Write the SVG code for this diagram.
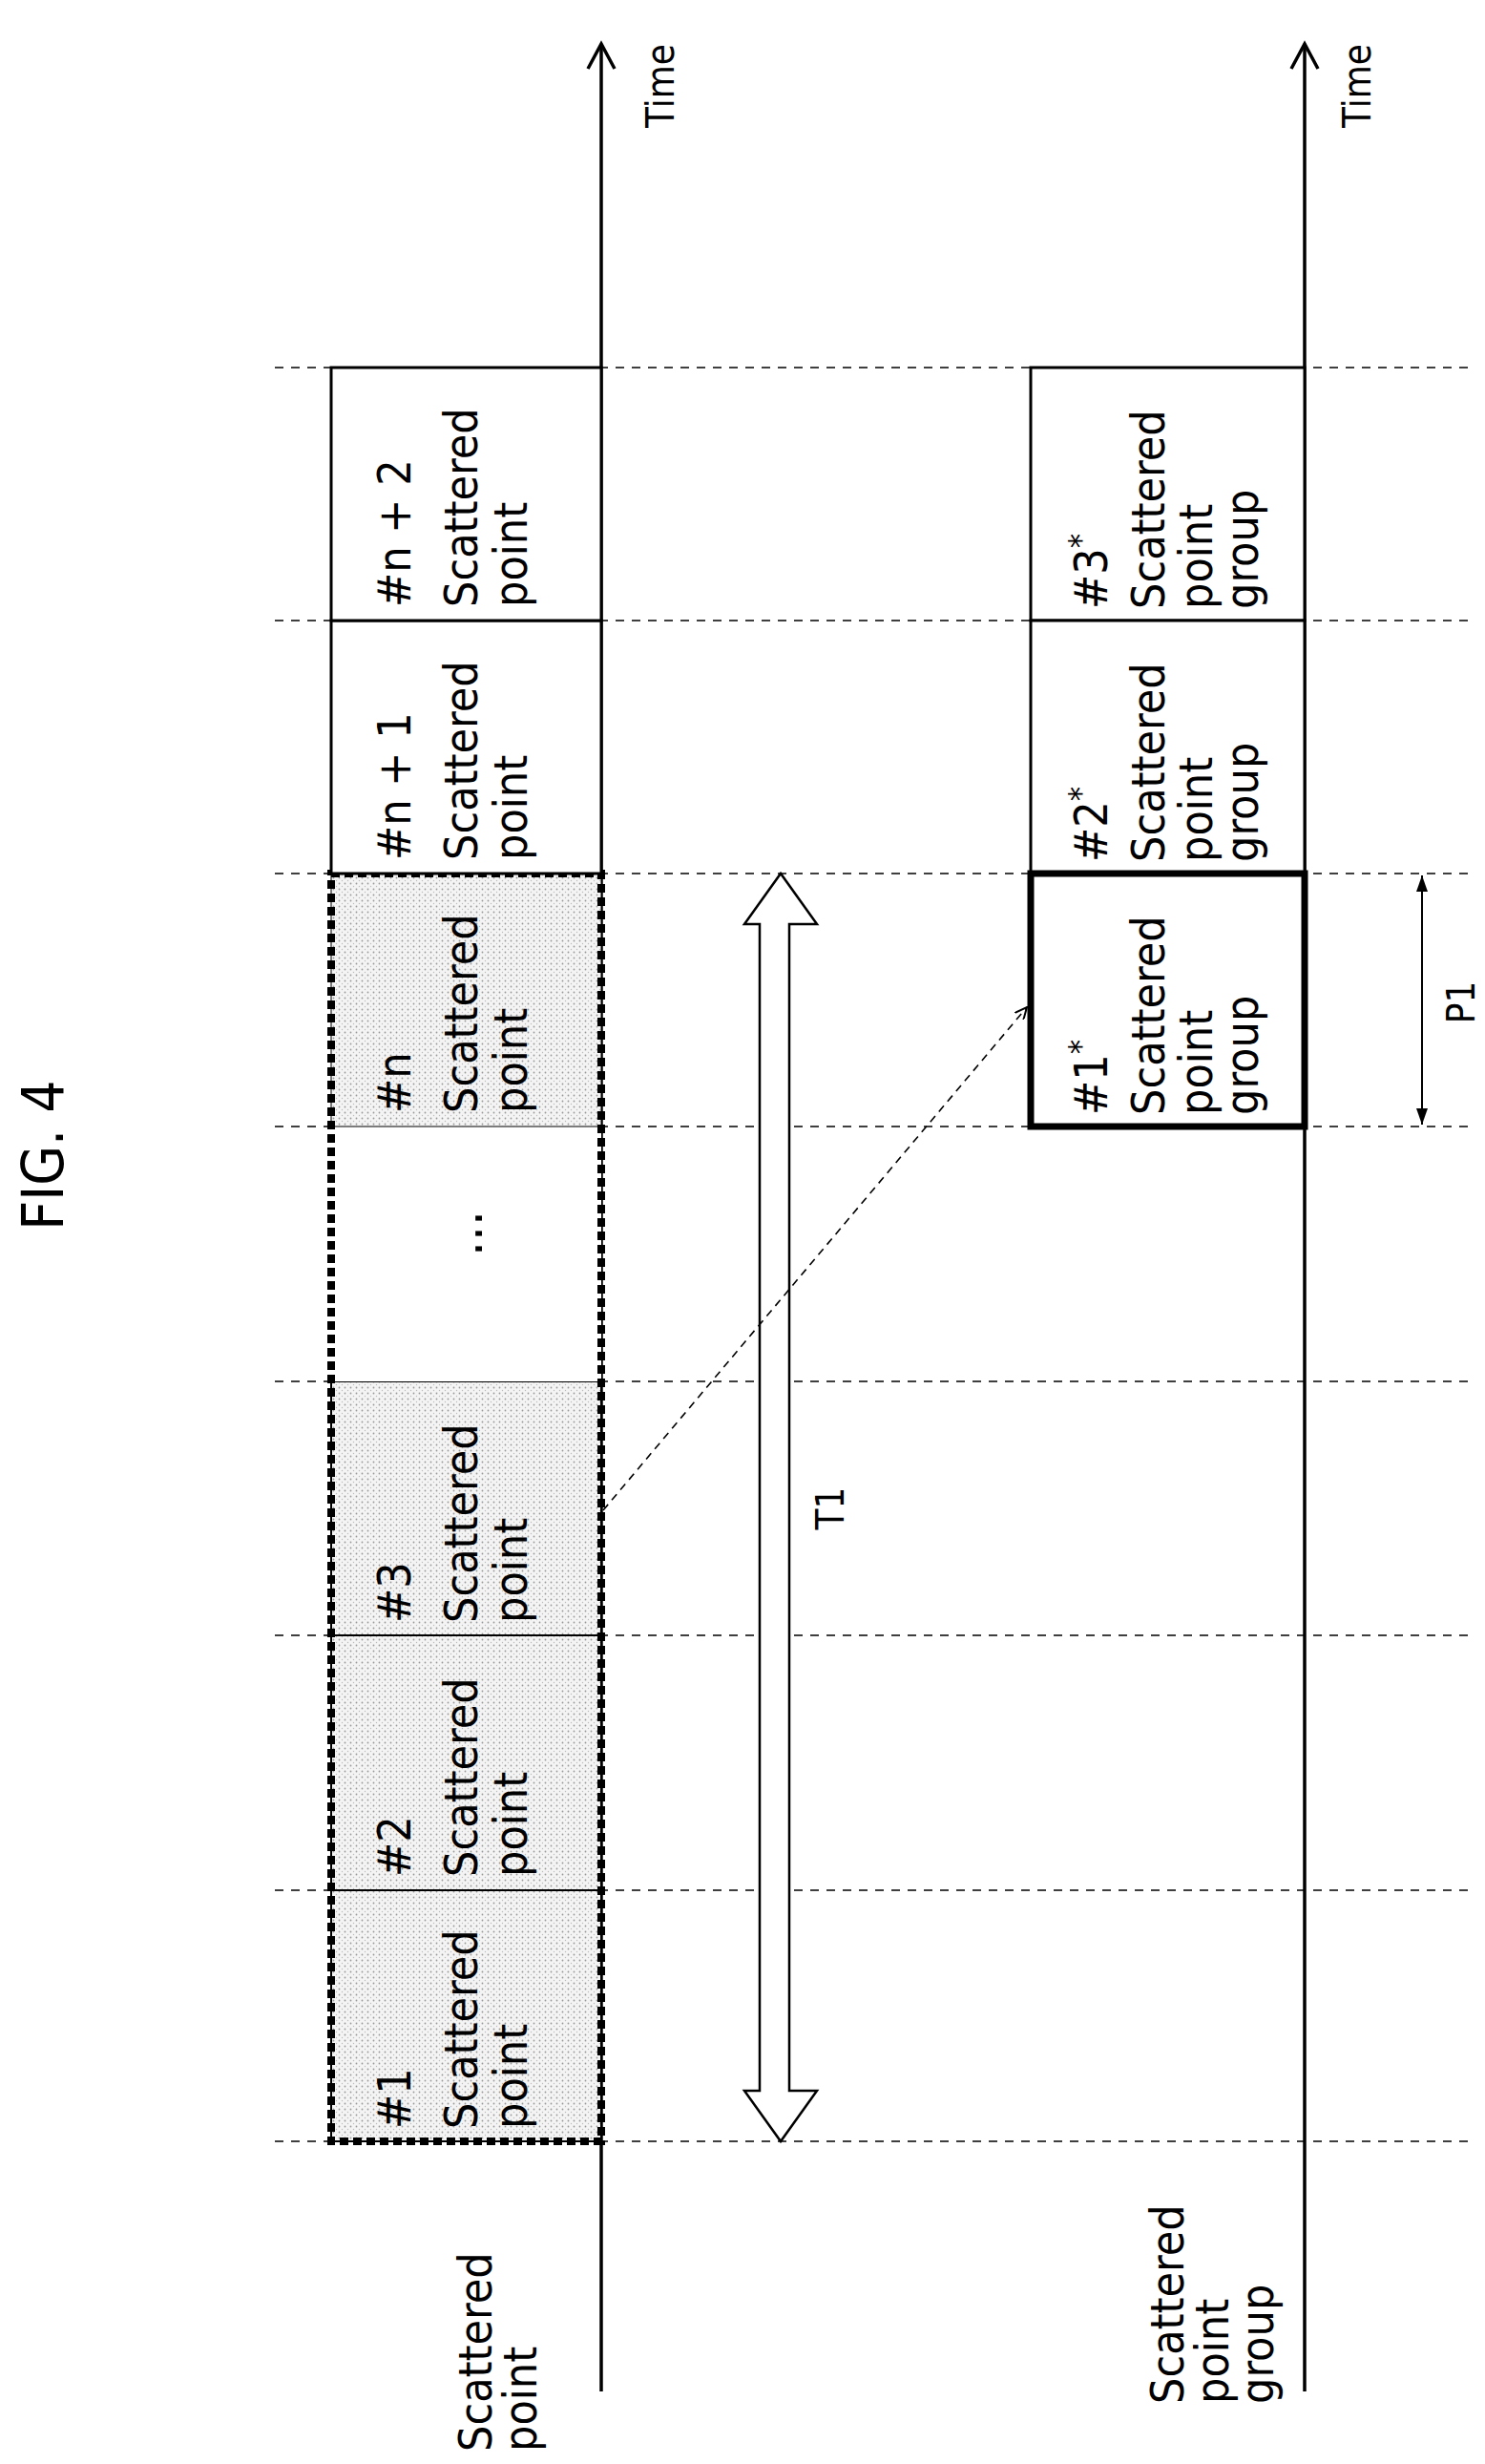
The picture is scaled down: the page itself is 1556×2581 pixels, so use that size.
<svg xmlns="http://www.w3.org/2000/svg" width="1556" height="2581" viewBox="0 0 1556 2581">
<style>
text{font-family:"DejaVu Sans Condensed","DejaVu Sans","Liberation Sans",sans-serif;font-size:48px;fill:#000}
.grid{stroke:#000;stroke-width:1.6;stroke-dasharray:9 8;fill:none}
.box{stroke:#000;stroke-width:3;fill:#fff}
.ax{stroke:#000;stroke-width:3.5;fill:none}
.st{font-size:34px}
</style>
<defs>
<pattern id="dots" width="6" height="6" patternUnits="userSpaceOnUse"><rect width="6" height="6" fill="#f4f4f4"/><circle cx="1.5" cy="1.5" r="0.9" fill="#999"/><circle cx="4.5" cy="4.5" r="0.7" fill="#bbb"/></pattern>
<marker id="ah" markerWidth="14" markerHeight="12" refX="13" refY="6" orient="auto" markerUnits="userSpaceOnUse"><path d="M0,0 L13,6 L0,12" fill="none" stroke="#000" stroke-width="2"/></marker>
<marker id="fh" markerWidth="18" markerHeight="14" refX="17" refY="7" orient="auto-start-reverse" markerUnits="userSpaceOnUse"><path d="M0,1 L17,7 L0,13 Z" fill="#000"/></marker>
</defs>
<rect width="1556" height="2581" fill="#fff"/>
<text transform="translate(66,1210) rotate(-90)" text-anchor="middle" style="font-size:60px">FIG. 4</text>
<g id="gridlines">
<line class="grid" x1="288" y1="385" x2="1540" y2="385"/>
<line class="grid" x1="288" y1="650" x2="1540" y2="650"/>
<line class="grid" x1="288" y1="915" x2="1540" y2="915"/>
<line class="grid" x1="288" y1="1180" x2="1540" y2="1180"/>
<line class="grid" x1="288" y1="1447" x2="1540" y2="1447"/>
<line class="grid" x1="288" y1="1713" x2="1540" y2="1713"/>
<line class="grid" x1="288" y1="1980" x2="1540" y2="1980"/>
<line class="grid" x1="288" y1="2243" x2="1540" y2="2243"/>
</g>
<g id="axes">
<line class="ax" x1="630" y1="2505" x2="630" y2="48"/>
<path class="ax" d="M616,72 L630,46 L644,72"/>
<text transform="translate(706,90) rotate(-90)" text-anchor="middle" style="font-size:40px">Time</text>
<line class="ax" x1="1367" y1="2505" x2="1367" y2="48"/>
<path class="ax" d="M1353,72 L1367,46 L1381,72"/>
<text transform="translate(1436,90) rotate(-90)" text-anchor="middle" style="font-size:40px">Time</text>
<text transform="translate(515,2568) rotate(-90)">Scattered</text>
<text transform="translate(562,2568) rotate(-90)">point</text>
<text transform="translate(1240,2518) rotate(-90)">Scattered</text>
<text transform="translate(1287,2518) rotate(-90)">point</text>
<text transform="translate(1334,2518) rotate(-90)">group</text>
</g>
<g id="sp1"><rect x="347" y="1980" width="283" height="263" fill="url(#dots)" stroke="#000" stroke-width="2"/>
<text transform="translate(430,2230) rotate(-90)">#1</text><text transform="translate(500,2230) rotate(-90)">Scattered</text><text transform="translate(552,2230) rotate(-90)">point</text></g>
<g id="sp2"><rect x="347" y="1713" width="283" height="267" fill="url(#dots)" stroke="#000" stroke-width="2"/>
<text transform="translate(430,1966) rotate(-90)">#2</text><text transform="translate(500,1966) rotate(-90)">Scattered</text><text transform="translate(552,1966) rotate(-90)">point</text></g>
<g id="sp3"><rect x="347" y="1447" width="283" height="266" fill="url(#dots)" stroke="#000" stroke-width="2"/>
<text transform="translate(430,1700) rotate(-90)">#3</text><text transform="translate(500,1700) rotate(-90)">Scattered</text><text transform="translate(552,1700) rotate(-90)">point</text></g>
<g id="spdots"><rect x="347" y="1180" width="283" height="267" fill="#fff" stroke="none"/>
<text transform="translate(505,1292) rotate(-90)" text-anchor="middle" style="font-size:56px">...</text></g>
<g id="spn"><rect x="347" y="915" width="283" height="265" fill="url(#dots)" stroke="#000" stroke-width="1"/>
<text transform="translate(430,1166) rotate(-90)">#n</text><text transform="translate(500,1166) rotate(-90)">Scattered</text><text transform="translate(552,1166) rotate(-90)">point</text></g>
<rect id="window" x="347" y="915" width="283" height="1328" fill="none" stroke="#000" stroke-width="8" stroke-dasharray="9 5"/>
<g id="spn1"><rect class="box" x="347" y="650" width="283" height="265"/>
<text transform="translate(430,901) rotate(-90)">#n + 1</text><text transform="translate(500,901) rotate(-90)">Scattered</text><text transform="translate(552,901) rotate(-90)">point</text></g>
<g id="spn2"><rect class="box" x="347" y="385" width="283" height="265"/>
<text transform="translate(430,636) rotate(-90)">#n + 2</text><text transform="translate(500,636) rotate(-90)">Scattered</text><text transform="translate(552,636) rotate(-90)">point</text></g>
<g id="g3"><rect class="box" x="1080" y="385" width="287" height="265"/>
<text transform="translate(1160,638) rotate(-90)">#3<tspan dy="-16" class="st">*</tspan></text><text transform="translate(1220,638) rotate(-90)">Scattered</text><text transform="translate(1270,638) rotate(-90)">point</text><text transform="translate(1318,638) rotate(-90)">group</text></g>
<g id="g2"><rect class="box" x="1080" y="650" width="287" height="265"/>
<text transform="translate(1160,903) rotate(-90)">#2<tspan dy="-16" class="st">*</tspan></text><text transform="translate(1220,903) rotate(-90)">Scattered</text><text transform="translate(1270,903) rotate(-90)">point</text><text transform="translate(1318,903) rotate(-90)">group</text></g>
<g id="g1"><rect x="1080" y="915" width="287" height="265" fill="#fff" stroke="#000" stroke-width="7"/>
<text transform="translate(1160,1168) rotate(-90)">#1<tspan dy="-16" class="st">*</tspan></text><text transform="translate(1220,1168) rotate(-90)">Scattered</text><text transform="translate(1270,1168) rotate(-90)">point</text><text transform="translate(1318,1168) rotate(-90)">group</text></g>
<g id="connectors">
<path d="M796,2190 L796,968 L780,968 L818,915 L856,968 L827,968 L827,2190 L856,2190 L818,2243 L780,2190 Z" fill="#fff" stroke="#000" stroke-width="2.5"/>
<text transform="translate(884,1580) rotate(-90)" text-anchor="middle" style="font-size:40px">T1</text>
<line x1="632" y1="1582" x2="1076" y2="1055" stroke="#000" stroke-width="1.6" stroke-dasharray="8 6" marker-end="url(#ah)"/>
<line x1="1490" y1="917" x2="1490" y2="1178" stroke="#000" stroke-width="2" marker-start="url(#fh)" marker-end="url(#fh)"/>
<text transform="translate(1545,1050) rotate(-90)" text-anchor="middle" style="font-size:40px">P1</text>
</g>
</svg>
